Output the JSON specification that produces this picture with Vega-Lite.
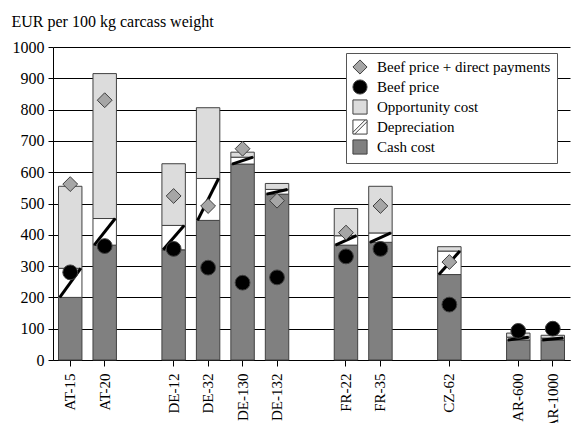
{
  "$schema": "https://vega.github.io/schema/vega-lite/v6.json",
  "width": 517,
  "height": 313,
  "autosize": {"type": "pad"},
  "padding": {"left": 11, "top": 13, "right": 1, "bottom": 0},
  "config": {
    "font": "Liberation Serif",
    "view": {"strokeWidth": 0},
    "axis": {
      "labelFont": "Liberation Serif",
      "labelColor": "black",
      "titleFont": "Liberation Serif",
      "titleColor": "black",
      "titleFontWeight": "normal",
      "tickColor": "black",
      "domainColor": "black"
    },
    "axisX": {
      "labelFontSize": 15,
      "labelPadding": 7,
      "tickSize": 6,
      "labelOverlap": false
    },
    "legend": {
      "labelFont": "Liberation Serif",
      "labelFontSize": 15,
      "labelColor": "black",
      "labelLimit": 400,
      "symbolSize": 200,
      "symbolStrokeColor": "#404040",
      "symbolStrokeWidth": 1,
      "rowPadding": 0,
      "labelOffset": 9,
      "padding": 6,
      "fillColor": "white",
      "strokeColor": "#555555"
    }
  },
  "datasets": {
    "farms": [
      {"farm": "AT-15", "Cash cost": 200, "Depreciation": 93, "Opportunity cost": 262, "Beef price": 280, "Beef price + direct payments": 562},
      {"farm": "AT-20", "Cash cost": 367, "Depreciation": 85, "Opportunity cost": 463, "Beef price": 364, "Beef price + direct payments": 830},
      {"farm": "DE-12", "Cash cost": 352, "Depreciation": 78, "Opportunity cost": 197, "Beef price": 355, "Beef price + direct payments": 524},
      {"farm": "DE-32", "Cash cost": 446, "Depreciation": 134, "Opportunity cost": 226, "Beef price": 295, "Beef price + direct payments": 492},
      {"farm": "DE-130", "Cash cost": 626, "Depreciation": 22, "Opportunity cost": 16, "Beef price": 247, "Beef price + direct payments": 675},
      {"farm": "DE-132", "Cash cost": 530, "Depreciation": 15, "Opportunity cost": 19, "Beef price": 264, "Beef price + direct payments": 509},
      {"farm": "FR-22", "Cash cost": 367, "Depreciation": 30, "Opportunity cost": 87, "Beef price": 331, "Beef price + direct payments": 407},
      {"farm": "FR-35", "Cash cost": 376, "Depreciation": 30, "Opportunity cost": 149, "Beef price": 355, "Beef price + direct payments": 492},
      {"farm": "CZ-62", "Cash cost": 273, "Depreciation": 75, "Opportunity cost": 14, "Beef price": 177, "Beef price + direct payments": 313},
      {"farm": "AR-600", "Cash cost": 64, "Depreciation": 9, "Opportunity cost": 13, "Beef price": 93},
      {"farm": "AR-1000", "Cash cost": 64, "Depreciation": 6, "Opportunity cost": 9, "Beef price": 100}
    ]
  },
  "data": {"name": "farms"},
  "encoding": {
    "x": {
      "field": "farm",
      "type": "nominal",
      "scale": {
        "domain": ["AT-15", "AT-20", "gap1", "DE-12", "DE-32", "DE-130", "DE-132", "gap2", "FR-22", "FR-35", "gap3", "CZ-62", "gap4", "AR-600", "AR-1000"],
        "paddingInner": 0.32,
        "paddingOuter": 0.16
      },
      "axis": {
        "title": null,
        "grid": false,
        "values": ["AT-15", "AT-20", "DE-12", "DE-32", "DE-130", "DE-132", "FR-22", "FR-35", "CZ-62", "AR-600", "AR-1000"],
        "labelAngle": -90
      }
    },
    "y": {
      "field": "v0",
      "type": "quantitative",
      "scale": {"domain": [0, 1000], "nice": false},
      "axis": {
        "title": "EUR per 100 kg carcass weight",
        "titleAngle": 0,
        "titleAlign": "left",
        "titleBaseline": "alphabetic",
        "titleX": -42,
        "titleY": -21,
        "titleFontSize": 16,
        "labelFontSize": 16,
        "labelPadding": 4,
        "labelOverlap": false,
        "tickSize": 5,
        "format": "d",
        "grid": true,
        "gridColor": "#000000",
        "gridOpacity": 1,
        "gridWidth": 1,
        "values": [0, 100, 200, 300, 400, 500, 600, 700, 800, 900, 1000]
      }
    }
  },
  "layer": [
    {
      "transform": [
        {"fold": ["Cash cost", "Depreciation", "Opportunity cost"], "as": ["series", "value"]},
        {"stack": "value", "groupby": ["farm"], "sort": [{"field": "series", "order": "ascending"}], "as": ["v0", "v1"]}
      ],
      "mark": {"type": "bar", "stroke": "#404040", "strokeWidth": 1},
      "encoding": {
        "y2": {"field": "v1"},
        "fill": {
          "field": "series",
          "type": "nominal",
          "scale": {
            "domain": ["Beef price + direct payments", "Beef price", "Opportunity cost", "Depreciation", "Cash cost"],
            "range": ["#a6a6a6", "#000000", "#dcdcdc", "#ffffff", "#808080"]
          },
          "legend": {"title": null, "orient": "none", "legendX": 293, "legendY": 6}
        }
      }
    },
    {
      "transform": [
        {"fold": ["Cash cost", "Depreciation", "Opportunity cost"], "as": ["series", "value"]},
        {"stack": "value", "groupby": ["farm"], "sort": [{"field": "series", "order": "ascending"}], "as": ["v0", "v1"]},
        {"filter": "datum.series === 'Depreciation'"}
      ],
      "mark": {"type": "rule", "stroke": "black", "strokeWidth": 3, "xOffset": -10.5, "x2Offset": 10.5},
      "encoding": {
        "x2": {"field": "farm"},
        "y2": {"field": "v1"}
      }
    },
    {
      "transform": [
        {"fold": ["Beef price + direct payments", "Beef price"], "as": ["series", "v0"]}
      ],
      "mark": {"type": "point", "filled": true, "stroke": "#404040", "strokeWidth": 1, "size": 220, "opacity": 1},
      "encoding": {
        "fill": {"field": "series", "type": "nominal"},
        "shape": {
          "field": "series",
          "type": "nominal",
          "scale": {
            "domain": ["Beef price + direct payments", "Beef price", "Opportunity cost", "Depreciation", "Cash cost"],
            "range": ["diamond", "circle", "square", "M-1,-1H1V1H-1Z M-1,0.75L0.75,-1 M-0.75,1L1,-0.75", "square"]
          },
          "legend": {"title": null, "orient": "none", "legendX": 293, "legendY": 6}
        }
      }
    }
  ]
}
